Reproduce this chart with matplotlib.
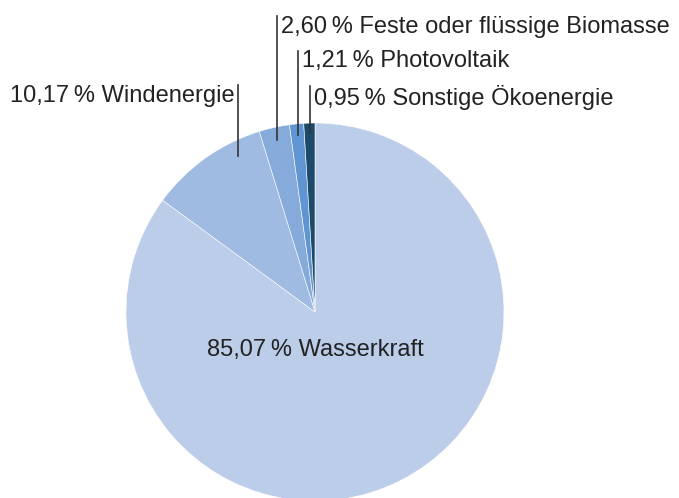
import numpy as np
import matplotlib.pyplot as plt

plt.rcParams['font.family'] = ['Liberation Sans', 'DejaVu Sans']

labels = ["Wasserkraft", "Windenergie", "Feste oder flüssige Biomasse",
          "Photovoltaik", "Sonstige Ökoenergie"]
shares = [85.07, 10.17, 2.60, 1.21, 0.95]
colors = ["#bccde9", "#a0bbe2", "#86abdb", "#5f95d3", "#1c4a6a"]

W, H = 679, 498
fig = plt.figure(figsize=(W / 100, H / 100), dpi=100)
ax = fig.add_axes([0, 0, 1, 1])

cx, cy, r = 315, H - 312, 189
wedges, _ = ax.pie(shares, colors=colors, startangle=90, counterclock=False,
                   center=(cx, cy), radius=r, frame=True,
                   wedgeprops=dict(edgecolor="white", linewidth=0.4))
ax.set_xlim(0, W)
ax.set_ylim(0, H)
ax.set_aspect("equal")
ax.axis("off")

FS = 17

def fmt(v):
    return f"{v:.2f}".replace(".", ",") + "\u2009% "

# main label
ax.text(cx, cy - 0.2 * r, fmt(shares[0]) + labels[0], ha="center", va="center",
        fontsize=FS, color="#222222")

# small slices: vertical leader lines
frac = [0.25, 0.5, 0.5, 0.5]
depth = [0.92, 0.93, 0.94, 0.95]
top_y = [H - 85, H - 16, H - 51, H - 86]
text_y = [H - 96, H - 27, H - 61, H - 97]
for i, w in enumerate(wedges[1:]):
    th = np.deg2rad(w.theta1 + frac[i] * (w.theta2 - w.theta1))
    x = cx + depth[i] * r * np.cos(th)
    y = cy + depth[i] * r * np.sin(th)
    ax.plot([x, x], [y, top_y[i]], color="#333333", lw=1.2)
    txt = fmt(shares[i + 1]) + labels[i + 1]
    if i == 0:
        ax.text(x - 3, text_y[i], txt, ha="right", va="center", fontsize=FS,
                color="#222222")
    else:
        ax.text(x + 4, text_y[i], txt, ha="left", va="center", fontsize=FS,
                color="#222222")

fig.savefig("out.png", dpi=100)
